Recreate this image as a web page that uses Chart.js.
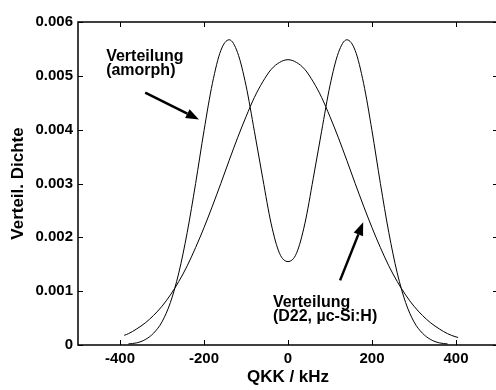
<!DOCTYPE html>
<html>
<head>
<meta charset="utf-8">
<script src="https://cdn.jsdelivr.net/npm/chart.js@4.4.0/dist/chart.umd.min.js"></script>
<style>
  html, body { margin: 0; padding: 0; background: #fff; overflow: hidden; }
</style>
</head>
<body>
<canvas id="myChart" width="502" height="390"></canvas>
<script>
// QKK in kHz, Verteilungsdichte
const qkkAmorph = [-380, -360, -340, -320, -300, -280, -260, -240, -220, -200, -180, -160, -140, -120, -100, -80, -60, -40, -20,
  0, 20, 40, 60, 80, 100, 120, 140, 160, 180, 200, 220, 240, 260, 280, 300, 320, 340, 360, 380];
const densAmorph = [0.00002, 0.00004, 0.00010, 0.00022, 0.00043, 0.00079, 0.00134, 0.00209, 0.00300, 0.00398, 0.00486, 0.00547, 0.00567, 0.00543, 0.00482, 0.00397, 0.00309, 0.00225, 0.00170,
  0.00155, 0.00170, 0.00225, 0.00309, 0.00397, 0.00482, 0.00543, 0.00567, 0.00547, 0.00486, 0.00398, 0.00300, 0.00209, 0.00134, 0.00079, 0.00043, 0.00022, 0.00010, 0.00004, 0.00002];

const qkkD22 = [-390, -380, -360, -340, -320, -300, -280, -260, -240, -220, -200, -180, -160, -140, -120, -100, -80, -60, -40, -20,
  0, 20, 40, 60, 80, 100, 120, 140, 160, 180, 200, 220, 240, 260, 280, 300, 320, 340, 360, 380, 400, 405];
const densD22 = [0.00018, 0.00021, 0.00030, 0.00041, 0.00055, 0.00072, 0.00093, 0.00118, 0.00147, 0.00181, 0.00218, 0.00258, 0.00300, 0.00343, 0.00385, 0.00424, 0.00460, 0.00489, 0.00512, 0.00525,
  0.00530, 0.00525, 0.00512, 0.00489, 0.00460, 0.00424, 0.00385, 0.00343, 0.00300, 0.00258, 0.00218, 0.00181, 0.00147, 0.00118, 0.00093, 0.00072, 0.00055, 0.00041, 0.00030, 0.00021, 0.00015, 0.00014];

const xTicks = [-400, -200, 0, 200, 400];
const yTicks = [0, 0.001, 0.002, 0.003, 0.004, 0.005, 0.006];
const yTickLabels = ['0', '0.001', '0.002', '0.003', '0.004', '0.005', '0.006'];

const FONT = "'Liberation Sans', Arial, sans-serif";

// labels with arrows (data coords)
const notes = [
  { lines: ['Verteilung', '(amorph)'], x: -433, y: 0.00528, dy: 14,
    from: [-340, 0.00469], to: [-212, 0.00419] },
  { lines: ['Verteilung', '(D22, \u00b5c-Si:H)'], x: -36, y: 0.00070, dy: 14,
    from: [124, 0.00120], to: [179, 0.00228] }
];

function toPoints(xs, ys) {
  return xs.map((x, i) => ({ x: x, y: ys[i] }));
}

const framePlugin = {
  id: 'frame',
  afterDraw(chart) {
    const c = chart.ctx;
    const a = chart.chartArea;
    const sx = chart.scales.x, sy = chart.scales.y;
    c.save();
    c.strokeStyle = '#000';
    c.lineWidth = 1.5;
    c.strokeRect(a.left, a.top, a.right - a.left, a.bottom - a.top);
    c.lineWidth = 1;
    c.beginPath();
    xTicks.forEach(v => {
      const px = Math.round(sx.getPixelForValue(v)) + 0.5;
      c.moveTo(px, a.bottom); c.lineTo(px, a.bottom - 5);
      c.moveTo(px, a.top); c.lineTo(px, a.top + 5);
    });
    yTicks.forEach(v => {
      const py = Math.round(sy.getPixelForValue(v)) + 0.5;
      c.moveTo(a.left, py); c.lineTo(a.left + 5, py);
      c.moveTo(a.right, py); c.lineTo(a.right - 5, py);
    });
    c.stroke();

    // annotations
    c.fillStyle = '#000';
    c.font = 'bold 16px ' + FONT;
    c.textAlign = 'left';
    c.textBaseline = 'alphabetic';
    notes.forEach(n => {
      const tx = sx.getPixelForValue(n.x);
      const ty = sy.getPixelForValue(n.y);
      n.lines.forEach((t, i) => c.fillText(t, tx, ty + i * n.dy));

      const x0 = sx.getPixelForValue(n.from[0]), y0 = sy.getPixelForValue(n.from[1]);
      const x1 = sx.getPixelForValue(n.to[0]), y1 = sy.getPixelForValue(n.to[1]);
      const ang = Math.atan2(y1 - y0, x1 - x0);
      const hl = 13, hw = 5;
      const bx = x1 - hl * Math.cos(ang), by = y1 - hl * Math.sin(ang);
      c.lineWidth = 2.5;
      c.beginPath();
      c.moveTo(x0, y0); c.lineTo(bx, by);
      c.stroke();
      c.beginPath();
      c.moveTo(x1, y1);
      c.lineTo(bx + hw * Math.sin(ang), by - hw * Math.cos(ang));
      c.lineTo(bx - hw * Math.sin(ang), by + hw * Math.cos(ang));
      c.closePath();
      c.fill();
    });
    c.restore();
  }
};

const ctx = document.getElementById('myChart').getContext('2d');

new Chart(ctx, {
  type: 'line',
  data: {
    datasets: [{
      label: 'amorph',
      data: toPoints(qkkAmorph, densAmorph),
      borderColor: '#000',
      borderWidth: 1,
      pointRadius: 0,
      fill: false,
      cubicInterpolationMode: 'monotone'
    }, {
      label: 'D22',
      data: toPoints(qkkD22, densD22),
      borderColor: '#000',
      borderWidth: 1,
      pointRadius: 0,
      fill: false,
      cubicInterpolationMode: 'monotone'
    }]
  },
  options: {
    responsive: false,
    animation: false,
    layout: { padding: { top: 22, right: 4, left: 0, bottom: 0 } },
    plugins: {
      legend: { display: false },
      tooltip: { enabled: false }
    },
    scales: {
      x: {
        type: 'linear',
        min: -500,
        max: 500,
        grid: { display: false, drawTicks: false },
        border: { display: false },
        afterFit: s => { s.height = 45; },
        afterBuildTicks: s => { s.ticks = xTicks.map(v => ({ value: v })); },
        ticks: {
          padding: 5,
          color: '#000',
          font: { family: FONT, size: 15, weight: 'bold' },
          callback: v => String(v)
        },
        title: {
          display: true,
          text: 'QKK / kHz',
          color: '#000',
          padding: { top: 0, bottom: 2 },
          font: { family: FONT, size: 17, weight: 'bold' }
        }
      },
      y: {
        type: 'linear',
        min: 0,
        max: 0.006,
        grid: { display: false, drawTicks: false },
        border: { display: false },
        afterFit: s => { s.width = 78; },
        afterBuildTicks: s => { s.ticks = yTicks.map(v => ({ value: v })); },
        ticks: {
          padding: 5,
          color: '#000',
          font: { family: FONT, size: 15, weight: 'bold' },
          callback: (v, i) => yTickLabels[i]
        },
        title: {
          display: true,
          text: 'Verteil. Dichte',
          color: '#000',
          padding: { top: 8, bottom: 0 },
          font: { family: FONT, size: 17, weight: 'bold' }
        }
      }
    }
  },
  plugins: [framePlugin]
});
</script>
</body>
</html>
